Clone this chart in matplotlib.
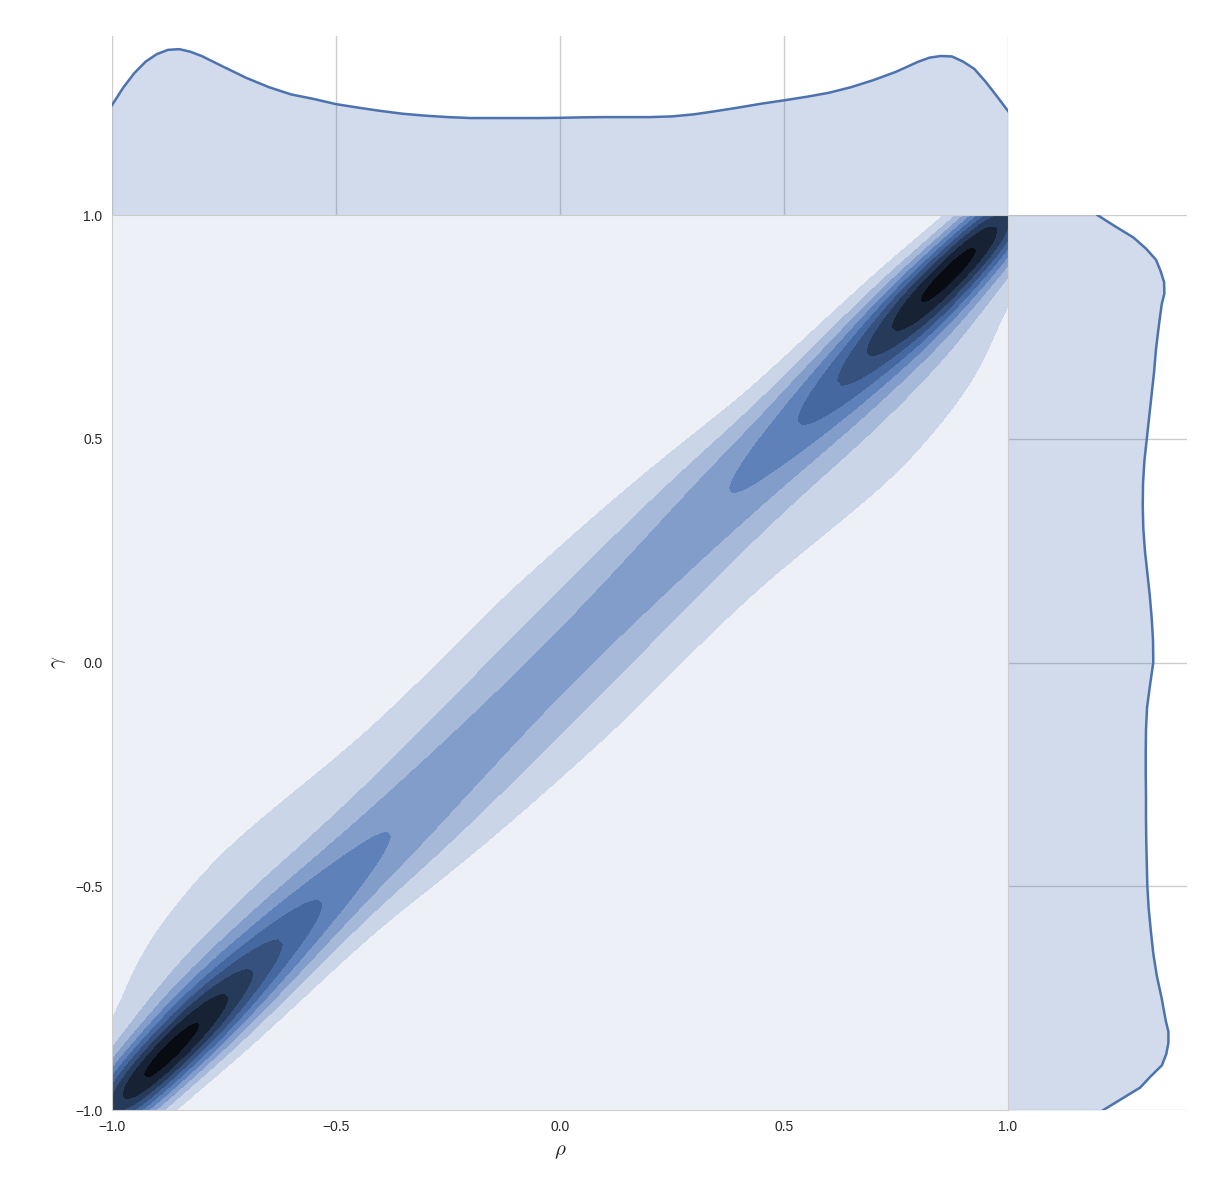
import colorsys
import numpy as np
import matplotlib
matplotlib.use("Agg")
import matplotlib.pyplot as plt

plt.rcParams["font.family"] = ["Liberation Sans", "DejaVu Sans"]
plt.rcParams["mathtext.fontset"] = "cm"

# marginal densities (finer steps near the ends)
marg_pos = np.r_[np.linspace(-1, -0.8, 9), np.linspace(-0.75, 0.75, 31), np.linspace(0.8, 1, 9)]
rho_dens = [0.466, 0.540, 0.602, 0.650, 0.682, 0.700, 0.703, 0.692, 0.674,
            0.627, 0.581, 0.542, 0.511, 0.492, 0.470, 0.455, 0.441, 0.429, 0.421,
            0.415, 0.411, 0.411, 0.411, 0.411, 0.412, 0.414, 0.415, 0.415, 0.415,
            0.418, 0.427, 0.441, 0.456, 0.472, 0.486, 0.501, 0.518, 0.542, 0.572,
            0.607,
            0.650, 0.667, 0.674, 0.672, 0.650, 0.619, 0.565, 0.504, 0.441]
gamma_dens = [0.353, 0.421, 0.489, 0.528, 0.570, 0.586, 0.594, 0.594, 0.584,
              0.569, 0.551, 0.538, 0.529, 0.521, 0.516, 0.514, 0.512, 0.511, 0.511,
              0.510, 0.510, 0.511, 0.515, 0.526, 0.538, 0.537, 0.532, 0.525, 0.516,
              0.507, 0.501, 0.499, 0.500, 0.505, 0.514, 0.523, 0.532, 0.541, 0.548,
              0.558,
              0.569, 0.579, 0.578, 0.565, 0.548, 0.511, 0.464, 0.396, 0.331]

# joint density along the diagonal t = (rho+gamma)/2, in contour-band units,
# and its spread across it (d = gamma-rho): a narrow core plus a wide tail,
# "in" = towards the centre of the plot, "out" = towards the corner
ridge_t = np.round(np.linspace(-1, 1, 21), 1)
ridge_h = [8.55, 9.69, 9.41, 6.98, 5.63, 4.59, 4.03, 3.68, 3.49, 3.39,
           3.35,
           3.39, 3.49, 3.68, 4.03, 4.59, 5.63, 6.98, 9.41, 9.69, 8.55]
tail_frac = [0.08, 0.15, 0.22, 0.30, 0.36, 0.39, 0.38, 0.37, 0.36, 0.35,
             0.35,
             0.35, 0.36, 0.37, 0.38, 0.39, 0.36, 0.30, 0.22, 0.15, 0.08]
core_in = [0.068, 0.070, 0.075, 0.080, 0.085, 0.090, 0.098, 0.108, 0.118, 0.125,
           0.128,
           0.125, 0.118, 0.108, 0.098, 0.090, 0.085, 0.080, 0.075, 0.070, 0.068]
tail_in = [0.15, 0.20, 0.24, 0.26, 0.28, 0.29, 0.31, 0.31, 0.30, 0.30,
           0.30,
           0.30, 0.30, 0.31, 0.31, 0.29, 0.28, 0.26, 0.24, 0.20, 0.15]
core_out = [0.065, 0.068, 0.078, 0.088, 0.097, 0.108, 0.122, 0.128, 0.130, 0.130,
            0.128,
            0.130, 0.130, 0.128, 0.122, 0.108, 0.097, 0.088, 0.078, 0.068, 0.065]
tail_out = [0.065, 0.068, 0.078, 0.088, 0.097, 0.108, 0.14, 0.18, 0.22, 0.26,
            0.30,
            0.26, 0.22, 0.18, 0.14, 0.108, 0.097, 0.088, 0.078, 0.068, 0.065]
bw = 0.07

levels = np.arange(11)
ticks = [-1.0, -0.5, 0.0, 0.5, 1.0]

blue = "#4C72B0"
grid_col = "#cccccc"
txt_col = "#262626"

hh, ll, ss = colorsys.rgb_to_hls(*matplotlib.colors.to_rgb(blue))
band_cols = [colorsys.hls_to_rgb(hh, 1 - (i + 0.5) / 10, ss) for i in range(10)]

g = np.linspace(-1.1, 1.1, 221)
X, Y = np.meshgrid(g, g)
T = (X + Y) / 2
D = Y - X
Z = np.zeros_like(X)
step = 0.1 / (np.sqrt(2 * np.pi) * bw)
for j, t0 in enumerate(ridge_t):
    inside = D * np.sign(t0) <= 0
    sc = np.where(inside, core_in[j], core_out[j])
    st = np.where(inside, tail_in[j], tail_out[j])
    along = step * np.exp(-0.5 * ((T - t0) / bw) ** 2)
    across = (1 - tail_frac[j]) * np.exp(-0.5 * (D / sc) ** 2) + tail_frac[j] * np.exp(-0.5 * (D / st) ** 2)
    Z += ridge_h[j] * along * across

fig = plt.figure(figsize=(12.23, 11.90), dpi=100)
ax = fig.add_axes([0.0916, 0.0672, 0.7326, 0.7521])
ax_top = fig.add_axes([0.0916, 0.8193, 0.7326, 0.1504])
ax_right = fig.add_axes([0.8242, 0.0672, 0.1464, 0.7521])

ax.contourf(X, Y, Z, levels=levels, colors=band_cols)
ax.set_xlim(-1, 1)
ax.set_ylim(-1, 1)
ax.set_xticks(ticks)
ax.set_yticks(ticks)
ax.tick_params(length=0, pad=7, labelsize=10, labelcolor=txt_col)
for side in ["top", "right"]:
    ax.spines[side].set_visible(False)
for side in ["left", "bottom"]:
    ax.spines[side].set_color(grid_col)
ax.set_xlabel(r"$\rho$", fontsize=15, color=txt_col, labelpad=6)
ax.set_ylabel(r"$\gamma$", fontsize=15, color=txt_col, labelpad=5)

# top marginal
ax_top.fill_between(marg_pos, 0, rho_dens, color=blue, alpha=0.25, lw=0)
ax_top.plot(marg_pos, rho_dens, color=blue, lw=1.8)
ax_top.set_xlim(-1, 1)
ax_top.set_ylim(0, 0.7585)
ax_top.set_xticks(ticks)
ax_top.set_yticks([])
ax_top.xaxis.grid(True, color=grid_col, lw=1)
ax_top.set_axisbelow(True)
ax_top.tick_params(length=0, labelbottom=False, labelleft=False)
for side in ["top", "right", "left"]:
    ax_top.spines[side].set_visible(False)
ax_top.spines["bottom"].set_color(grid_col)

# right marginal
ax_right.fill_betweenx(marg_pos, 0, gamma_dens, color=blue, alpha=0.25, lw=0)
ax_right.plot(gamma_dens, marg_pos, color=blue, lw=1.8)
ax_right.set_ylim(-1, 1)
ax_right.set_xlim(0, 0.663)
ax_right.set_yticks(ticks)
ax_right.set_xticks([])
ax_right.yaxis.grid(True, color=grid_col, lw=1)
ax_right.set_axisbelow(True)
ax_right.tick_params(length=0, labelbottom=False, labelleft=False)
for side in ["top", "right", "bottom"]:
    ax_right.spines[side].set_visible(False)
ax_right.spines["left"].set_color(grid_col)

fig.savefig("out.png", dpi=100)
